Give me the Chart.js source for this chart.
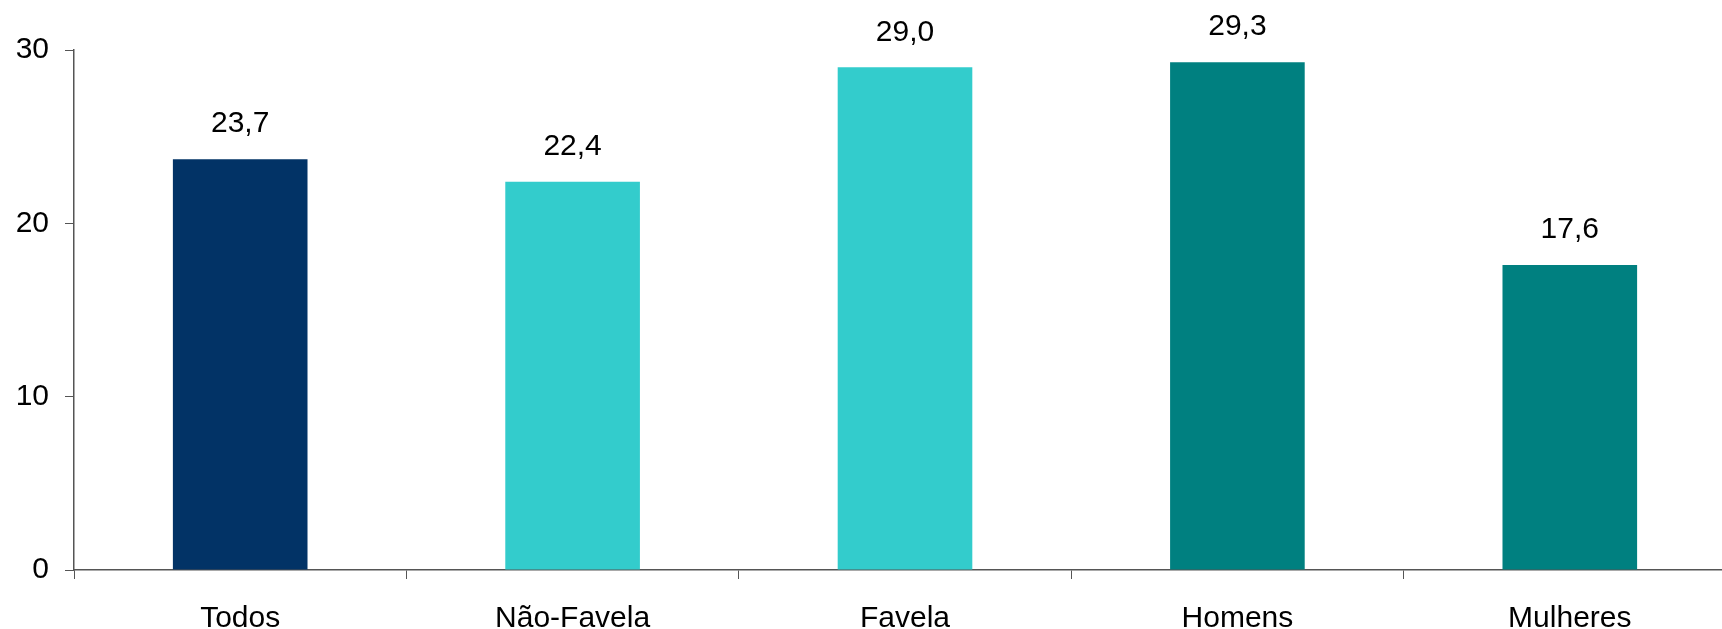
<!DOCTYPE html>
<html>
<head>
<meta charset="utf-8">
<script src="https://cdn.jsdelivr.net/npm/chart.js@4/dist/chart.umd.min.js"></script>
<style>
  html, body { margin: 0; padding: 0; background: #fff; overflow: hidden; }
  /* plot runs a little past the right edge in the original, so the canvas is wider and clipped */
  #wrap { width: 1722px; height: 629px; overflow: hidden; }
</style>
</head>
<body>
<div id="wrap"><canvas id="chart" width="1736" height="629"></canvas></div>
<script>
const categories = ["Todos", "Não-Favela", "Favela", "Homens", "Mulheres"];
const values = [23.7, 22.4, 29.0, 29.3, 17.6];
const barColors = ["#023366", "#33CCCC", "#33CCCC", "#008080", "#008080"];
const yTicks = [0, 10, 20, 30];

const fontFamily = "'Liberation Sans', Arial, Helvetica, sans-serif";

// value labels above each bar, comma decimal
const valueLabels = {
    id: 'valueLabels',
    afterDatasetsDraw(chart) {
        const ctx = chart.ctx;
        const meta = chart.getDatasetMeta(0);
        ctx.save();
        ctx.font = "30px " + fontFamily;
        ctx.fillStyle = "#000";
        ctx.textAlign = "center";
        ctx.textBaseline = "middle";
        meta.data.forEach((bar, i) => {
            const txt = values[i].toFixed(1).replace(".", ",");
            ctx.fillText(txt, bar.x, bar.y - 35);
        });
        ctx.restore();
    }
};

new Chart(document.getElementById("chart"), {
    type: 'bar',
    data: {
        labels: categories,
        datasets: [{
            data: values,
            backgroundColor: barColors,
            barPercentage: 0.405,
            categoryPercentage: 1
        }]
    },
    options: {
        responsive: false,
        animation: false,
        layout: { padding: { top: 50, right: 0, left: 0, bottom: 0 } },
        plugins: {
            legend: { display: false },
            tooltip: { enabled: false }
        },
        scales: {
            x: {
                grid: {
                    display: true,
                    drawOnChartArea: false,
                    tickLength: 9,
                    color: "#555"
                },
                border: { color: "#555", width: 1.5 },
                ticks: {
                    color: "#000",
                    font: { family: fontFamily, size: 30 },
                    padding: 22
                },
                afterFit(scale) { scale.height = 59; }
            },
            y: {
                min: 0,
                max: 30,
                afterBuildTicks(scale) {
                    scale.ticks = yTicks.map(v => ({ value: v }));
                },
                grid: {
                    display: true,
                    drawOnChartArea: false,
                    tickLength: 9,
                    color: "#555"
                },
                border: { color: "#555", width: 1.5 },
                ticks: {
                    color: "#000",
                    font: { family: fontFamily, size: 30 },
                    padding: 16
                },
                afterFit(scale) { scale.width = 74; }
            }
        }
    },
    plugins: [valueLabels]
});
</script>
</body>
</html>
